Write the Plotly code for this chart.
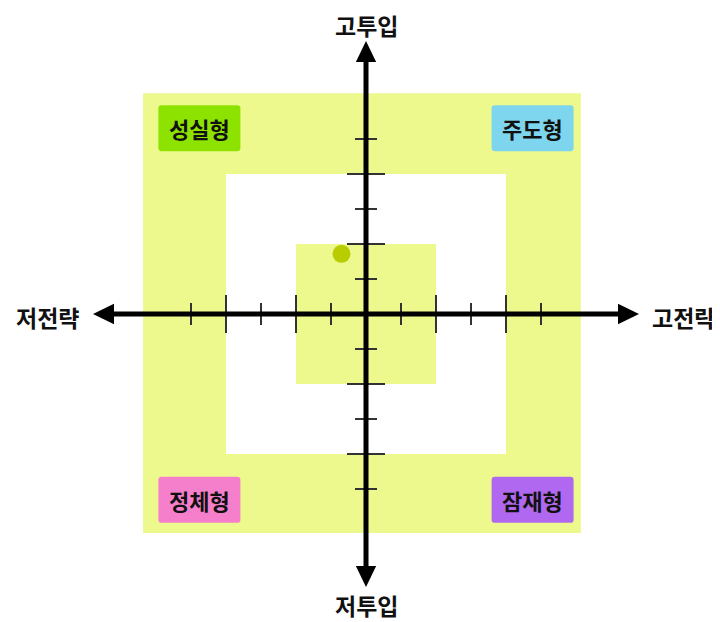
import plotly.graph_objects as go

# ── Data ──
x_axis_labels = ["저전략", "고전략"]
y_axis_labels = ["저투입", "고투입"]
quadrant_names = ["성실형", "주도형", "정체형", "잠재형"]
quadrant_sx = [-1, 1, -1, 1]
quadrant_sy = [1, 1, -1, -1]
ticks = [-5, -4, -3, -2, -1, 1, 2, 3, 4, 5]
major_ticks = [-4, -2, 2, 4]
point_x = [-0.7]
point_y = [1.72]

# ── Geometry (1 unit = 35 px); page body adds an 8px offset ──
PX = 35.0
CX, CY = 358, 306
W, H = 720, 622
outer = dict(x0=-6.37, x1=6.14, y0=-6.26, y1=6.31)
middle = 4
inner = 2
arrow_end = 7.8
head_len, head_half = 0.6, 0.29

YELLOW = "#eef98d"
QCOLORS = ["#8ee200", "#7dd6ee", "#f67fcb", "#b068f1"]
FONT = "Noto Sans CJK KR"

fig = go.Figure()
shapes = []

# background zones
shapes.append(dict(type="rect", **outer, fillcolor=YELLOW, line_width=0, layer="below"))
shapes.append(dict(type="rect", x0=-middle, x1=middle, y0=-middle, y1=middle,
                   fillcolor="white", line_width=0, layer="below"))
shapes.append(dict(type="rect", x0=-inner, x1=inner, y0=-inner, y1=inner,
                   fillcolor=YELLOW, line_width=0, layer="below"))


def rounded_rect(x0, x1, y0, y1, r):
    return (f"M {x0 + r},{y0} L {x1 - r},{y0} Q {x1},{y0} {x1},{y0 + r} "
            f"L {x1},{y1 - r} Q {x1},{y1} {x1 - r},{y1} L {x0 + r},{y1} "
            f"Q {x0},{y1} {x0},{y1 - r} L {x0},{y0 + r} Q {x0},{y0} {x0 + r},{y0} Z")


# quadrant label boxes
bw, bh = 82 / PX, 46 / PX
bcx, bcy = 4.76, 5.31
for name, sx, sy, col in zip(quadrant_names, quadrant_sx, quadrant_sy, QCOLORS):
    cx, cy = sx * bcx, sy * bcy
    shapes.append(dict(type="path",
                       path=rounded_rect(cx - bw / 2, cx + bw / 2, cy - bh / 2, cy + bh / 2, 0.09),
                       fillcolor=col, line_width=0))
    fig.add_annotation(x=cx, y=cy, text=f"<b>{name}</b>", showarrow=False,
                       font=dict(family=FONT, size=22, color="#111"))

# ticks
for t in ticks:
    half = (19 if t in major_ticks else 11) / PX
    shapes.append(dict(type="line", x0=t, x1=t, y0=-half, y1=half,
                       line=dict(color="#333", width=2)))
    shapes.append(dict(type="line", x0=-half, x1=half, y0=t, y1=t,
                       line=dict(color="#333", width=2)))

# axes
base = arrow_end - head_len
shapes.append(dict(type="line", x0=-base, x1=base, y0=0, y1=0, line=dict(color="black", width=5)))
shapes.append(dict(type="line", x0=0, x1=0, y0=-base, y1=base, line=dict(color="black", width=5)))
for s in (-1, 1):
    shapes.append(dict(type="path",
                       path=f"M {s * arrow_end},0 L {s * base},{head_half} L {s * base},{-head_half} Z",
                       fillcolor="black", line_width=0))
    shapes.append(dict(type="path",
                       path=f"M 0,{s * arrow_end} L {head_half},{s * base} L {-head_half},{s * base} Z",
                       fillcolor="black", line_width=0))

# axis labels
label_font = dict(family=FONT, size=23, color="#111")
fig.add_annotation(x=-9.11, y=-0.08, text=f"<b>{x_axis_labels[0]}</b>", showarrow=False,
                   font=label_font, borderpad=0)
fig.add_annotation(x=9.06, y=-0.08, text=f"<b>{x_axis_labels[1]}</b>", showarrow=False,
                   font=label_font, borderpad=0)
fig.add_annotation(x=0, y=-8.3, text=f"<b>{y_axis_labels[0]}</b>", showarrow=False,
                   font=label_font, borderpad=0)
fig.add_annotation(x=0, y=8.25, text=f"<b>{y_axis_labels[1]}</b>", showarrow=False,
                   font=label_font, borderpad=0)

# point
fig.add_trace(go.Scatter(x=point_x, y=point_y, mode="markers",
                         marker=dict(color="#b8cc00", size=18), showlegend=False,
                         hoverinfo="skip"))

fig.update_layout(
    width=W, height=H,
    margin=dict(l=0, r=0, t=0, b=0),
    paper_bgcolor="white", plot_bgcolor="white",
    shapes=shapes,
    xaxis=dict(range=[-CX / PX, (W - CX) / PX], visible=False, fixedrange=True),
    yaxis=dict(range=[-(H - CY) / PX, CY / PX], visible=False, fixedrange=True),
)

fig.write_html("out.html")
